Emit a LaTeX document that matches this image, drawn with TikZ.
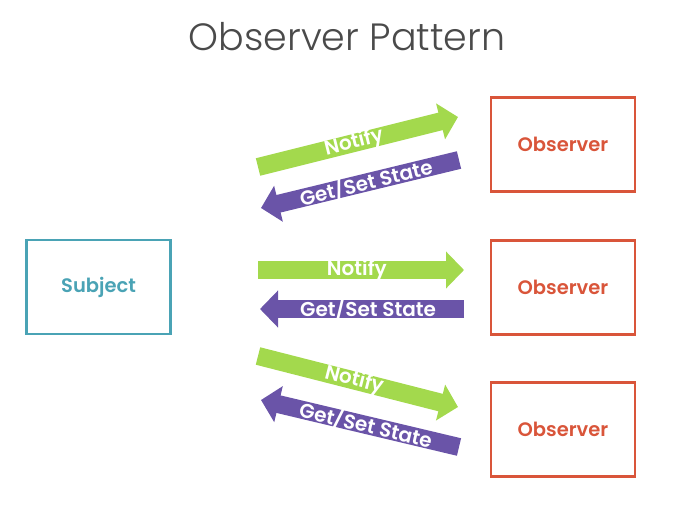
\documentclass[tikz,border=0pt]{standalone}
\usepackage{fontspec}
\setmainfont{Poppins}[BoldFont=* SemiBold]
\newfontfamily\titlefont{Poppins}[UprightFont=* Light]
\usetikzlibrary{arrows.meta}
\definecolor{subj}{HTML}{4AA3B5}
\definecolor{obs}{HTML}{D9553A}
\definecolor{notif}{HTML}{A3D94D}
\definecolor{getset}{HTML}{6A54A8}
\definecolor{titlec}{HTML}{4A4A4A}
\tikzset{
  box/.style={draw, line width=2.2pt, minimum width=144pt, minimum height=94pt, inner sep=0pt, font=\bfseries\fontsize{19.5}{22}\selectfont},
  subjbox/.style={box, draw=subj, text=subj},
  obsbox/.style={box, draw=obs, text=obs},
  fat/.style={line width=18pt, -{Triangle[width=36pt,length=18pt]}},
  lbl/.style={text=white, font=\bfseries\fontsize{20}{22}\selectfont, sloped, inner sep=0pt}
}
\begin{document}
\begin{tikzpicture}[x=1pt,y=-1pt]
\useasboundingbox (0,0) rectangle (687,506);
\node[text=titlec, font=\titlefont\fontsize{38}{44}\selectfont] (title) at (347,37) {Observer Pattern};
\node[subjbox] (subject) at (98.5,287) {Subject};
\node[obsbox] (o1) at (563,144.5) {Observer};
\node[obsbox] (o2) at (563,287.5) {Observer};
\node[obsbox] (o3) at (563,429.5) {Observer};
% top pair
\coordinate (n1s) at (258,167);
\coordinate (n1e) at (458,117);
\coordinate (g1s) at (459,160);
\coordinate (g1e) at (261,208);
% middle pair
\coordinate (n2s) at (258,270);
\coordinate (n2e) at (464,270);
\coordinate (g2s) at (464,309);
\coordinate (g2e) at (260,309);
% bottom pair
\coordinate (n3s) at (258,356);
\coordinate (n3e) at (458,407);
\coordinate (g3s) at (459,447);
\coordinate (g3e) at (261,400);
\draw[fat, notif] (n1s) -- node[lbl, pos=0.48]{Notify} (n1e);
\draw[fat, getset] (g1s) -- node[lbl, pos=0.47]{Get/Set State} (g1e);
\draw[fat, notif] (n2s) -- node[lbl, pos=0.48]{Notify} (n2e);
\draw[fat, getset] (g2s) -- node[lbl, pos=0.47]{Get/Set State} (g2e);
\draw[fat, notif] (n3s) -- node[lbl, pos=0.48]{Notify} (n3e);
\draw[fat, getset] (g3s) -- node[lbl, pos=0.47]{Get/Set State} (g3e);
\end{tikzpicture}
\end{document}
